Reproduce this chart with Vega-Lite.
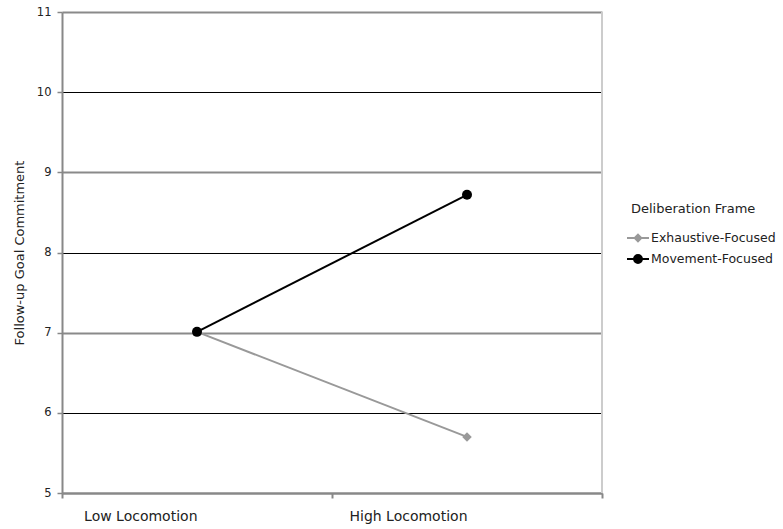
{
  "$schema": "https://vega.github.io/schema/vega-lite/v6.json",
  "autosize": {"type": "none"},
  "width": 540,
  "height": 481,
  "padding": {"left": 62, "top": 12, "right": 181, "bottom": 36},
  "background": "white",
  "config": {
    "font": "DejaVu Sans",
    "view": {"stroke": null},
    "axis": {"labelFont": "DejaVu Sans", "titleFont": "DejaVu Sans", "labelColor": "#222", "titleColor": "#222"}
  },
  "data": {
    "values": [
      {"locomotion": "Low Locomotion", "frame": "Exhaustive-Focused", "value": 7.01},
      {"locomotion": "High Locomotion", "frame": "Exhaustive-Focused", "value": 5.70},
      {"locomotion": "Low Locomotion", "frame": "Movement-Focused", "value": 7.01},
      {"locomotion": "High Locomotion", "frame": "Movement-Focused", "value": 8.72}
    ]
  },
  "layer": [
    {
      "mark": {"type": "rule", "color": "#cccccc", "strokeWidth": 2},
      "encoding": {"x": {"datum": "High Locomotion", "type": "nominal", "bandPosition": 1}}
    },
    {
      "mark": {"type": "line", "strokeWidth": 2},
      "encoding": {
        "x": {
          "field": "locomotion", "type": "nominal", "sort": ["Low Locomotion", "High Locomotion"],
          "scale": {"paddingInner": 0, "paddingOuter": 0},
          "axis": {
            "title": null, "labelAngle": 0, "labelFontSize": 14, "labelPadding": 18,
            "domainColor": "#888888", "domainWidth": 2, "tickColor": "#888888", "tickWidth": 2,
            "tickSize": 5, "tickBand": "extent", "grid": false
          }
        },
        "y": {
          "field": "value", "type": "quantitative",
          "scale": {"domain": [5, 11], "nice": false, "zero": false},
          "axis": {
            "title": "Follow-up Goal Commitment", "titleFontSize": 13, "titleFontWeight": "normal",
            "titlePadding": 10, "labelFontSize": 11.5, "labelPadding": 6, "format": "d",
            "values": [5, 6, 7, 8, 9, 10, 11], "tickSize": 5,
            "domainColor": "#888888", "domainWidth": 2, "tickColor": "#888888", "tickWidth": 1.5,
            "grid": true,
            "gridColor": {"condition": {"test": "datum.value % 2 == 0", "value": "#000000"}, "value": "#8a8a8a"},
            "gridWidth": {"condition": {"test": "datum.value % 2 == 0", "value": 1.2}, "value": 2},
            "gridOpacity": 1
          }
        },
        "color": {
          "field": "frame", "type": "nominal",
          "scale": {"domain": ["Exhaustive-Focused", "Movement-Focused"], "range": ["#999999", "#000000"]},
          "legend": {
            "title": "Deliberation Frame", "orient": "none", "legendX": 564, "legendY": 191,
            "titleFontSize": 13, "titleFontWeight": "normal", "titleColor": "#222", "titlePadding": 10,
            "labelFontSize": 12.5, "labelColor": "#222", "labelOffset": 1,
            "symbolSize": 484, "symbolStrokeWidth": 2, "rowPadding": 1,
            "encode": {
              "title": {"update": {"dx": {"value": 5}}},
              "symbols": {
                "update": {
                  "shape": {"signal": "datum.value === 'Movement-Focused' ? 'M-1,0L1,0M0.36,0A0.36,0.36,0,1,1,-0.36,0A0.36,0.36,0,1,1,0.36,0Z' : 'M-1,0L1,0M0,-0.3L0.3,0L0,0.3L-0.3,0Z'"},
                  "fill": {"signal": "datum.value === 'Movement-Focused' ? '#000000' : '#999999'"},
                  "stroke": {"signal": "datum.value === 'Movement-Focused' ? '#000000' : '#999999'"},
                  "opacity": {"value": 1}
                }
              }
            }
          }
        }
      }
    },
    {
      "transform": [{"filter": "datum.frame === 'Exhaustive-Focused'"}],
      "mark": {"type": "point", "filled": true, "size": 90, "opacity": 1, "shape": "diamond", "color": "#999999"},
      "encoding": {
        "x": {"field": "locomotion", "type": "nominal", "sort": ["Low Locomotion", "High Locomotion"]},
        "y": {"field": "value", "type": "quantitative"}
      }
    },
    {
      "transform": [{"filter": "datum.frame === 'Movement-Focused'"}],
      "mark": {"type": "point", "filled": true, "size": 100, "opacity": 1, "shape": "circle", "color": "#000000"},
      "encoding": {
        "x": {"field": "locomotion", "type": "nominal", "sort": ["Low Locomotion", "High Locomotion"]},
        "y": {"field": "value", "type": "quantitative"}
      }
    }
  ]
}
